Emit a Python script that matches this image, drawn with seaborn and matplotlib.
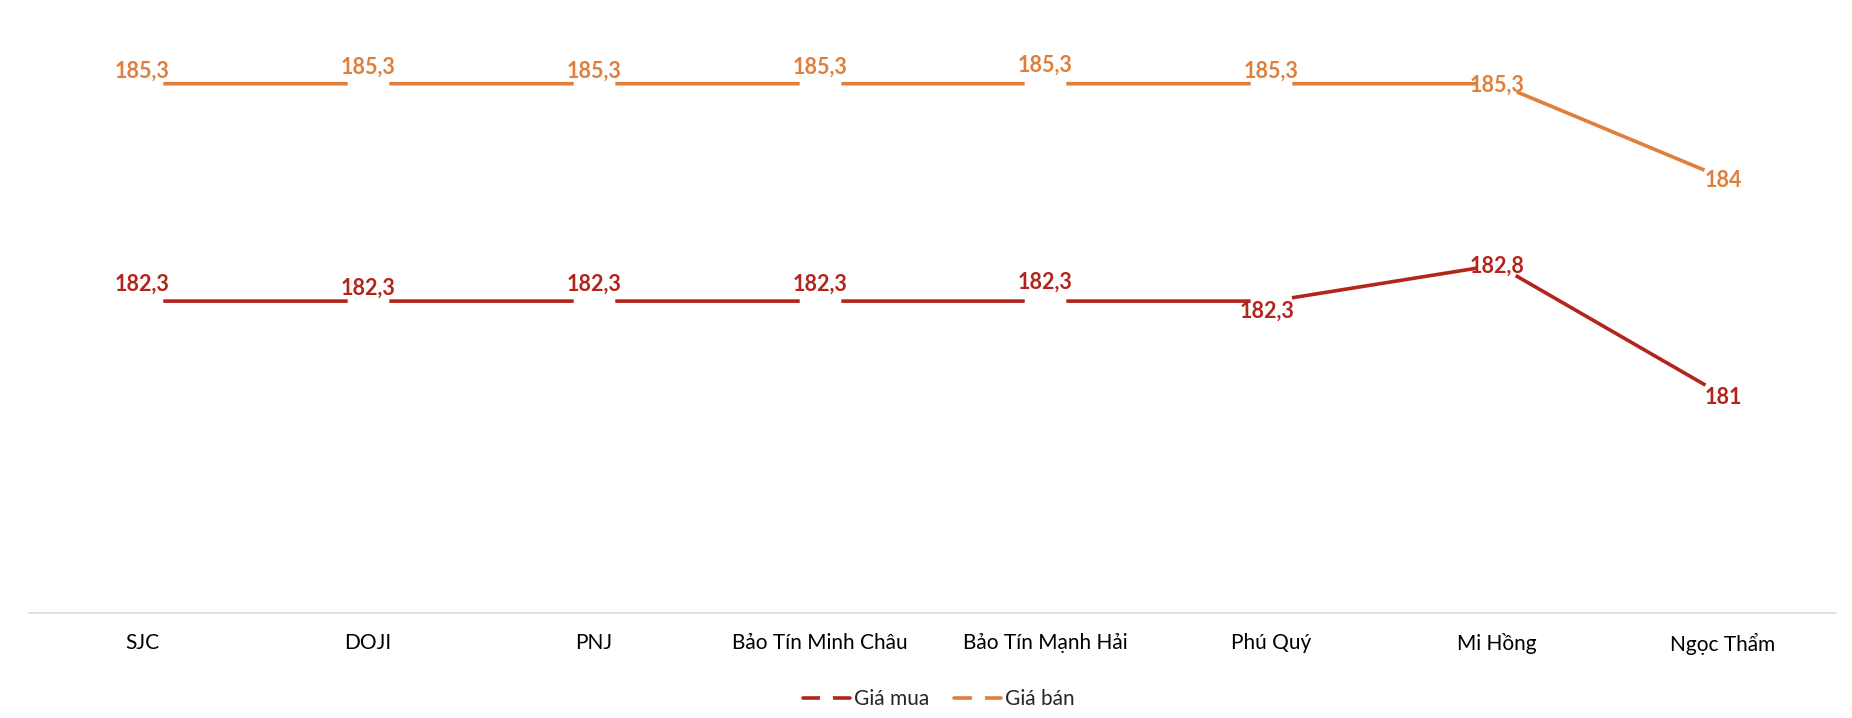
import matplotlib
matplotlib.use("Agg")
import matplotlib.pyplot as plt
from matplotlib.lines import Line2D
import seaborn as sns
import pandas as pd

# ---- data ----
categories = ["SJC", "DOJI", "PNJ", "Bảo Tín Minh Châu", "Bảo Tín Mạnh Hải",
              "Phú Quý", "Mi Hồng", "Ngọc Thẩm"]
gia_mua = [182.3, 182.3, 182.3, 182.3, 182.3, 182.3, 182.8, 181.0]
gia_ban = [185.3, 185.3, 185.3, 185.3, 185.3, 185.3, 185.3, 184.0]
series_names = ["Giá mua", "Giá bán"]

# ---- style ----
RED = "#B3241B"
ORANGE = "#E07E3B"
palette = {"Giá mua": RED, "Giá bán": ORANGE}

# label centre offsets in pixels (x right, y down) relative to the point
mua_off = [(0, -18), (0, -14), (0, -18), (0, -18), (0, -20), (-4, 9), (0, 0), (0, 1)]
ban_off = [(0, -14), (0, -18), (0, -14), (0, -18), (0, -20), (0, -14), (0, 0), (0, 1)]

sns.set_theme(style="white")
plt.rcParams["font.family"] = ["Lato", "DejaVu Sans"]

df = pd.concat([
    pd.DataFrame({"cat": categories, "value": gia_mua, "series": series_names[0]}),
    pd.DataFrame({"cat": categories, "value": gia_ban, "series": series_names[1]}),
], ignore_index=True)

fig = plt.figure(figsize=(18.52, 7.18), dpi=100)
ax = fig.add_axes([29 / 1852, 1 - 612.7 / 718, (1836 - 29) / 1852, (612.7 - 33) / 718])

sns.lineplot(data=df, x="cat", y="value", hue="series", palette=palette,
             sort=False, linewidth=2.6, marker="o", markersize=30,
             markerfacecolor="white", markeredgewidth=0, legend=False, ax=ax)

ax.set_xlim(-0.5, len(categories) - 0.5)
ax.set_ylim(178, 186)
ax.set_xlabel("")
ax.set_ylabel("")
ax.set_yticks([])
for s in ["top", "right", "left"]:
    ax.spines[s].set_visible(False)
ax.spines["bottom"].set_color("#D9D9D9")
ax.spines["bottom"].set_linewidth(1.1)
ax.tick_params(axis="x", length=0, pad=14.5, labelsize=15, labelcolor="black")


def fmt(v):
    return f"{v:g}".replace(".", ",")


PX = 0.72  # points per pixel at 100 dpi
for vals, offs, col in [(gia_mua, mua_off, RED), (gia_ban, ban_off, ORANGE)]:
    for i, (v, (dx, dy)) in enumerate(zip(vals, offs)):
        ax.annotate(fmt(v), xy=(i, v), xytext=(dx * PX, -(dy + 8) * PX),
                    textcoords="offset points", ha="center", va="baseline",
                    fontsize=15.5, fontweight="bold", color=col, zorder=5)

handles = [Line2D([], [], color=palette[n], linewidth=2.6, marker="o",
                  markersize=9.5, markerfacecolor="white", markeredgewidth=0)
           for n in series_names]
fig.legend(handles=handles, labels=series_names, loc="center",
           bbox_to_anchor=(0.507, 1 - 699 / 718), ncol=2, frameon=False,
           fontsize=15, handlelength=2.25, handletextpad=0.2,
           columnspacing=1.2)

fig.savefig("out.png", dpi=100, facecolor="white")
